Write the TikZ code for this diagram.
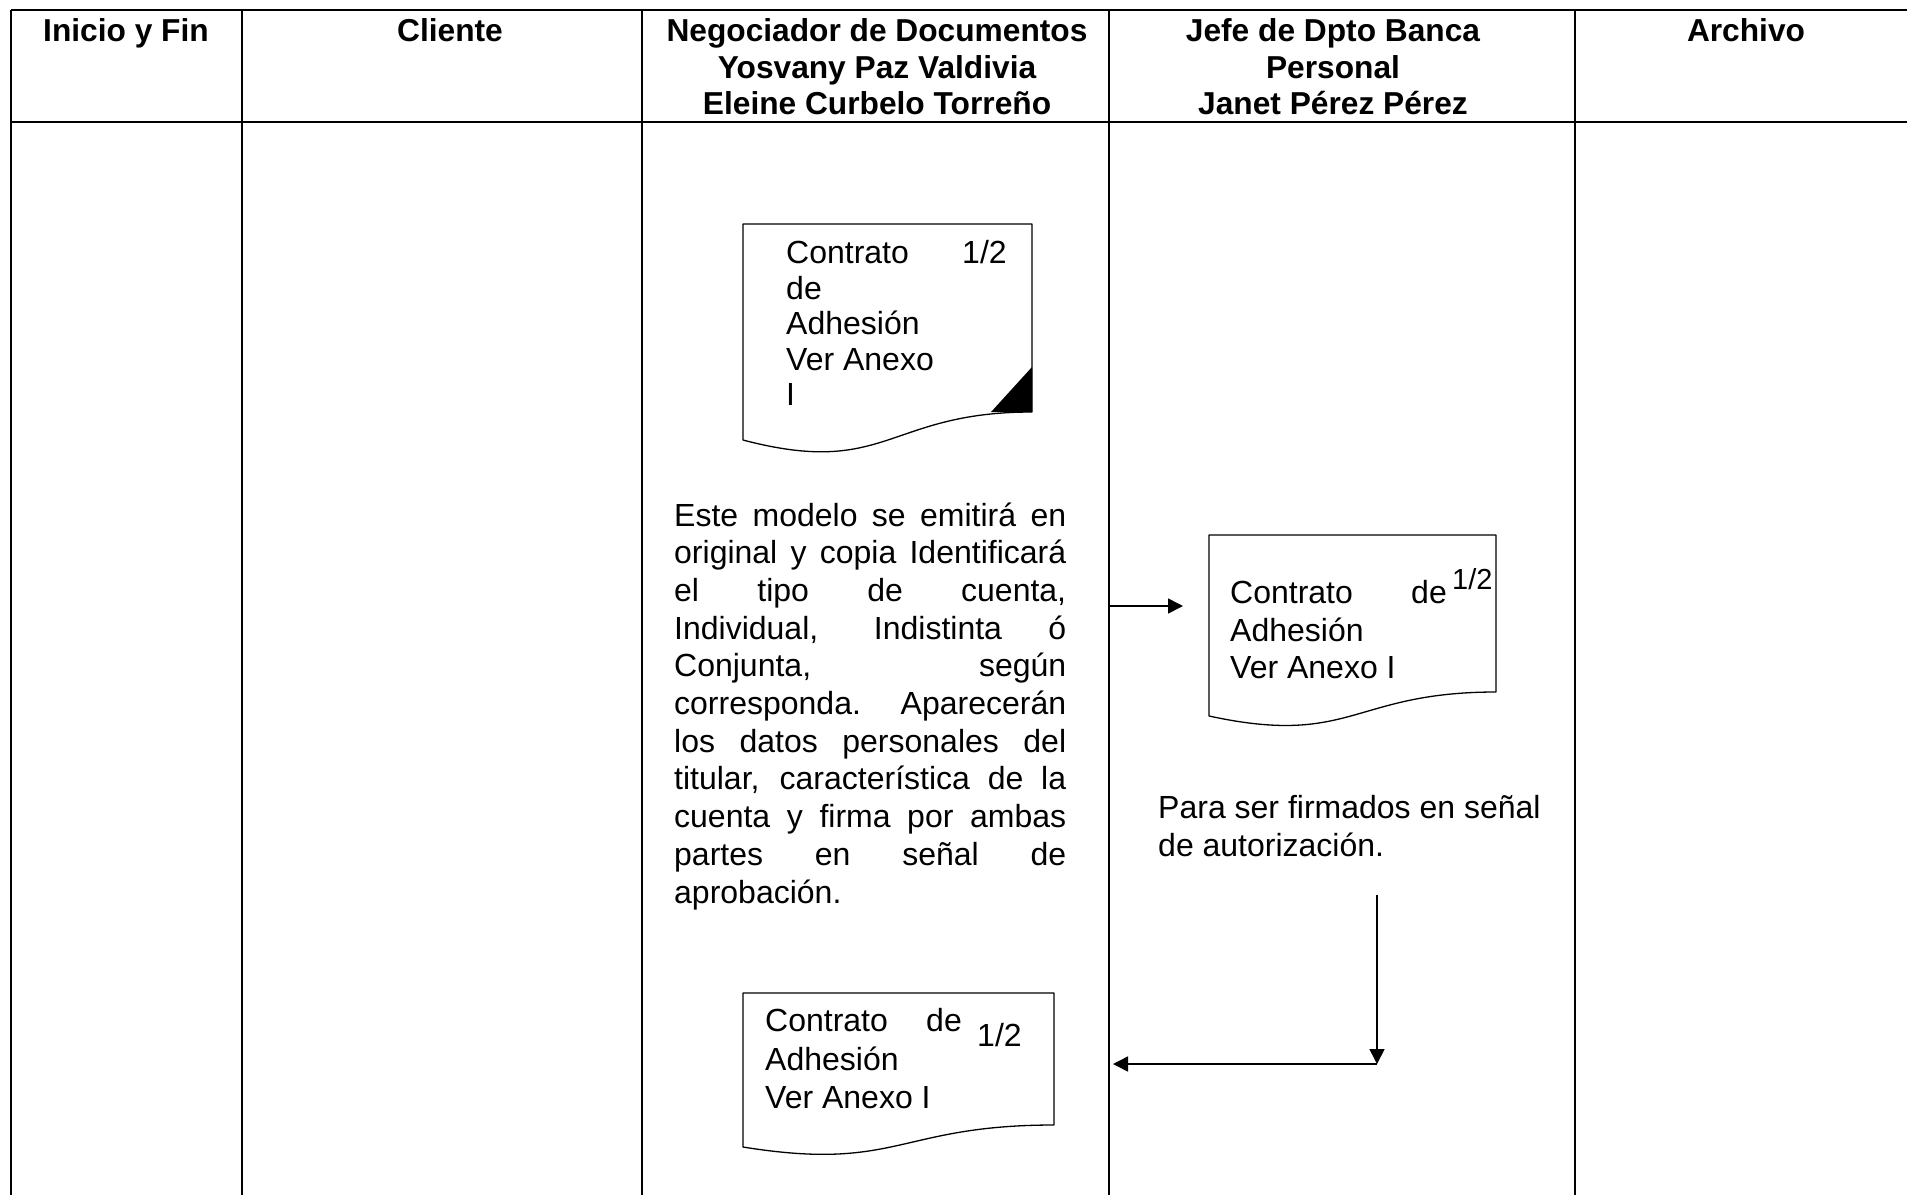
\documentclass[tikz,border=0pt]{standalone}
\usepackage{fontspec}
\setmainfont{Liberation Sans}
\usetikzlibrary{arrows.meta}
\begin{document}
\begin{tikzpicture}[x=1pt,y=-1pt,
  grid/.style={line width=2.7pt},
  docline/.style={line width=1.3pt, line join=round},
  flow/.style={line width=1.6pt, -{Triangle[length=15pt,width=15pt]}},
  lbl/.style={inner sep=0pt, anchor=base west, font=\fontsize{32}{36.5}\selectfont},
  lble/.style={inner sep=0pt, anchor=base east, font=\fontsize{32}{36.5}\selectfont},
  head/.style={inner sep=0pt, anchor=base, font=\bfseries\fontsize{31.7}{36.5}\selectfont},
]
\useasboundingbox (0,0) rectangle (1907,1195);

% swimlane table
\draw[grid] (11,10) -- (1907,10);
\draw[grid] (11,122) -- (1907,122);
\foreach \x in {11,242,642,1109,1575}
  \draw[grid] (\x,10) -- (\x,1195);

% lane headings
\node[head] (h0) at (126,41.5) {Inicio y Fin};
\node[head] (h1) at (450,41.5) {Cliente};
\node[head] (h2a) at (877,41.5) {Negociador de Documentos};
\node[head] (h2b) at (877,78) {Yosvany Paz Valdivia};
\node[head] (h2c) at (877,114.5) {Eleine Curbelo Torreño};
\node[head] (h3a) at (1333,41.5) {Jefe de Dpto Banca};
\node[head] (h3b) at (1333,78) {Personal};
\node[head] (h3c) at (1333,114.5) {Janet Pérez Pérez};
\node[head] (h4) at (1746,41.5) {Archivo};

% document 1 (continues on another page)
\draw[docline] (743,224) -- (1032,224) -- (1032,412)
  .. controls (887,412) and (887,478) .. (743,440) -- cycle;
\fill (991,412) -- (1032,367) -- (1032,412) -- cycle;
\node[lbl] (d1a) at (786,263.5) {Contrato};
\node[lbl] (d1n) at (962,263.5) {1/2};
\node[lbl] (d1b) at (786,299) {de};
\node[lbl] (d1c) at (786,334.5) {Adhesión};
\node[lbl] (d1d) at (786,370) {Ver Anexo};
\node[lbl] (d1e) at (786,405.5) {I};

% description of the contract
\node[inner sep=0pt, anchor=base west, font=\fontsize{32}{37.7}\selectfont] (desc) at (674,526)
{\parbox[t]{392pt}{%
\makebox[\linewidth][s]{Este modelo se emitirá en}\\
\makebox[\linewidth][s]{original y copia Identificará}\\
\makebox[\linewidth][s]{el tipo de cuenta,}\\
\makebox[\linewidth][s]{Individual, Indistinta ó}\\
\makebox[\linewidth][s]{Conjunta, según}\\
\makebox[\linewidth][s]{corresponda. Aparecerán}\\
\makebox[\linewidth][s]{los datos personales del}\\
\makebox[\linewidth][s]{titular, característica de la}\\
\makebox[\linewidth][s]{cuenta y firma por ambas}\\
\makebox[\linewidth][s]{partes en señal de}\\
aprobación.}};

% document 2
\draw[docline] (1209,535) -- (1496,535) -- (1496,692)
  .. controls (1352,692) and (1352,747) .. (1209,716) -- cycle;
\node[lbl] (d2a) at (1230,603) {Contrato};
\node[lble] (d2b) at (1447,603) {de};
\node[lbl, font=\fontsize{29}{33}\selectfont] (d2n) at (1452,589) {1/2};
\node[lbl] (d2c) at (1230,641) {Adhesión};
\node[lbl] (d2d) at (1230,678) {Ver Anexo I};

\node[inner sep=0pt, anchor=base west, font=\fontsize{32}{38}\selectfont] (sign) at (1158,818)
{\parbox[t]{420pt}{Para ser firmados en señal\\de autorización.}};

% document 3
\draw[docline] (743,993) -- (1054,993) -- (1054,1125)
  .. controls (898,1125) and (898,1172) .. (743,1147) -- cycle;
\node[lbl] (d3a) at (765,1031.5) {Contrato};
\node[lble] (d3b) at (962,1031.5) {de};
\node[lbl] (d3n) at (977,1046) {1/2};
\node[lbl] (d3c) at (765,1070.5) {Adhesión};
\node[lbl] (d3d) at (765,1108.5) {Ver Anexo I};

% connectors
\coordinate (a1s) at (1109,606);
\coordinate (a1e) at (1183,606);
\draw[flow] (a1s) -- (a1e);
\coordinate (a2s) at (1377,895);
\coordinate (a2e) at (1377,1064);
\coordinate (a3e) at (1113,1064);
\draw[flow] (a2s) -- (a2e);
\draw[flow] (a2e) -- (a3e);
\end{tikzpicture}
\end{document}
